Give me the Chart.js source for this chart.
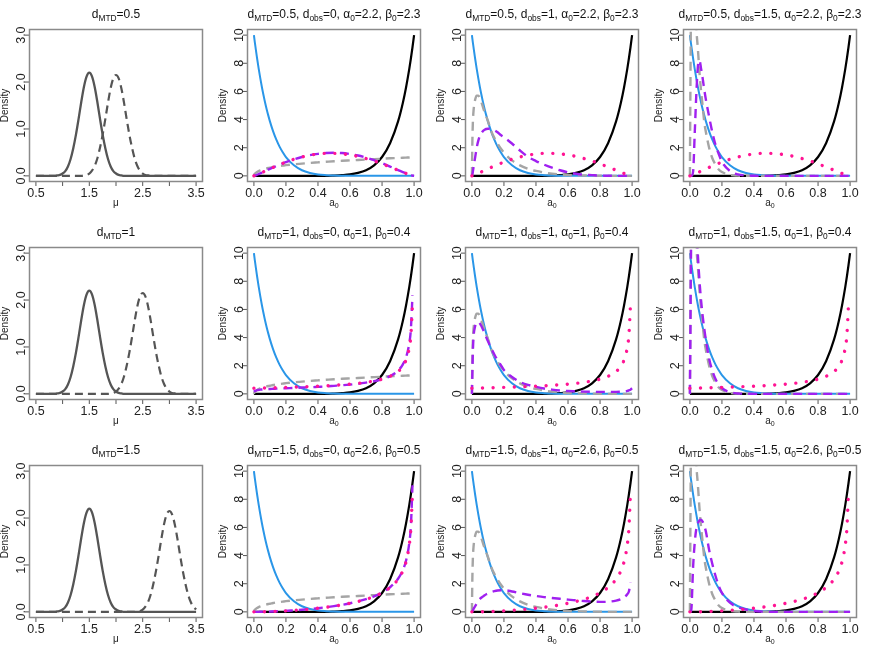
<!DOCTYPE html>
<html>
<head>
<meta charset="utf-8">
<script src="https://cdn.jsdelivr.net/npm/chart.js@4.4.1/dist/chart.umd.min.js"></script>
<style>
  html, body { margin: 0; padding: 0; background: #fff; }
  #grid { position: relative; width: 872px; height: 654px; }
  #grid canvas { position: absolute; }
</style>
</head>
<body>
<div id="grid"></div>
<script>
// ---- panel parameters ----
const dMTD = ["0.5", "1", "1.5"];
const dObs = ["0", "1", "1.5"];
const alpha0 = ["2.2", "1", "2.6"];
const beta0 = ["2.3", "0.4", "0.5"];

// ---- left column: densities of mu ----
const muGrid = [0.5, 0.55, 0.6, 0.65, 0.7, 0.75, 0.8, 0.85, 0.9, 0.95, 1.0, 1.05, 1.1, 1.15, 1.2, 1.25, 1.3, 1.35, 1.4, 1.45,
  1.5, 1.55, 1.6, 1.65, 1.7, 1.75, 1.8, 1.85, 1.9, 1.95, 2.0, 2.05, 2.1, 2.15, 2.2, 2.25, 2.3, 2.35, 2.4, 2.45,
  2.5, 2.55, 2.6, 2.65, 2.7, 2.75, 2.8, 2.85, 2.9, 2.95, 3.0, 3.05, 3.1, 3.15, 3.2, 3.25, 3.3, 3.35, 3.4, 3.45, 3.5];

const muSolid = [0, 0, 0, 0, 0, 0, 0, 0, 0.01, 0.02, 0.05, 0.1, 0.2, 0.36, 0.59, 0.88, 1.22, 1.58, 1.9, 2.12,
  2.2, 2.12, 1.9, 1.58, 1.22, 0.88, 0.59, 0.36, 0.2, 0.1, 0.05, 0.02, 0.01, 0, 0, 0, 0, 0, 0, 0,
  0, 0, 0, 0, 0, 0, 0, 0, 0, 0, 0, 0, 0, 0, 0, 0, 0, 0, 0, 0, 0];

const muDashR1 = [0, 0, 0, 0, 0, 0, 0, 0, 0, 0, 0, 0, 0, 0, 0, 0, 0, 0, 0.01, 0.02,
  0.05, 0.11, 0.21, 0.37, 0.6, 0.88, 1.21, 1.56, 1.87, 2.08, 2.15, 2.08, 1.87, 1.56, 1.21, 0.88, 0.6, 0.37, 0.21, 0.11,
  0.05, 0.02, 0.01, 0, 0, 0, 0, 0, 0, 0, 0, 0, 0, 0, 0, 0, 0, 0, 0, 0, 0];

const muDashR2 = [0, 0, 0, 0, 0, 0, 0, 0, 0, 0, 0, 0, 0, 0, 0, 0, 0, 0, 0, 0,
  0, 0, 0, 0, 0, 0, 0, 0, 0.01, 0.02, 0.05, 0.11, 0.21, 0.37, 0.6, 0.88, 1.21, 1.56, 1.87, 2.08,
  2.15, 2.08, 1.87, 1.56, 1.21, 0.88, 0.6, 0.37, 0.21, 0.11, 0.05, 0.02, 0.01, 0, 0, 0, 0, 0, 0, 0, 0];

const muDashR3 = [0, 0, 0, 0, 0, 0, 0, 0, 0, 0, 0, 0, 0, 0, 0, 0, 0, 0, 0, 0,
  0, 0, 0, 0, 0, 0, 0, 0, 0, 0, 0, 0, 0, 0, 0, 0, 0, 0, 0.01, 0.02,
  0.05, 0.11, 0.21, 0.37, 0.6, 0.88, 1.21, 1.56, 1.87, 2.08, 2.15, 2.08, 1.87, 1.56, 1.21, 0.88, 0.6, 0.37, 0.21, 0.11, 0.05];

const muTicks = [0.5, 1, 1.5, 2, 2.5, 3, 3.5];
const muTickLabels = ["0.5", "", "1.5", "", "2.5", "", "3.5"];
const muDensTicks = [0, 1, 2, 3];
const muDensLabels = ["0.0", "1.0", "2.0", "3.0"];

// ---- other columns: densities of a0 ----
const a0Grid = [0, 0.003, 0.006, 0.01, 0.02, 0.03, 0.04, 0.05, 0.06, 0.07, 0.08, 0.09, 0.1, 0.12, 0.14, 0.16, 0.18, 0.2,
  0.25, 0.3, 0.35, 0.4, 0.45, 0.5, 0.55, 0.6, 0.65, 0.7, 0.75, 0.8, 0.85, 0.9, 0.93, 0.95, 0.97, 0.98, 0.99, 1.0];

const blueCurve = [10, 9.73, 9.47, 9.14, 8.34, 7.6, 6.93, 6.3, 5.73, 5.2, 4.72, 4.28, 3.87, 3.16, 2.57, 2.08, 1.68, 1.34,
  0.75, 0.4, 0.21, 0.1, 0.05, 0.02, 0.01, 0, 0, 0, 0, 0, 0, 0, 0, 0, 0, 0, 0, 0];
const blackCurve = [0, 0, 0, 0, 0, 0, 0, 0, 0, 0, 0, 0, 0, 0, 0, 0, 0, 0,
  0, 0, 0, 0, 0, 0.02, 0.05, 0.1, 0.21, 0.4, 0.75, 1.34, 2.32, 3.87, 5.2, 6.3, 7.6, 8.34, 9.14, 10];

const pinkR1 = [0, 0.01, 0.02, 0.04, 0.08, 0.13, 0.18, 0.23, 0.29, 0.34, 0.39, 0.45, 0.5, 0.6, 0.7, 0.8, 0.89, 0.98,
  1.18, 1.34, 1.47, 1.55, 1.6, 1.6, 1.56, 1.49, 1.38, 1.23, 1.06, 0.85, 0.63, 0.4, 0.26, 0.17, 0.09, 0.05, 0.02, 0];
const pinkR2 = [0.4, 0.4, 0.4, 0.4, 0.4, 0.41, 0.41, 0.41, 0.42, 0.42, 0.42, 0.42, 0.43, 0.43, 0.44, 0.44, 0.45, 0.46,
  0.48, 0.5, 0.52, 0.54, 0.57, 0.61, 0.65, 0.69, 0.75, 0.82, 0.92, 1.05, 1.25, 1.59, 1.97, 2.41, 3.28, 4.18, 6.34, null];
const pinkR3 = [0, 0, 0, 0, 0, 0, 0.01, 0.01, 0.01, 0.01, 0.02, 0.02, 0.02, 0.03, 0.04, 0.05, 0.06, 0.07,
  0.11, 0.15, 0.2, 0.26, 0.33, 0.4, 0.5, 0.61, 0.74, 0.89, 1.09, 1.36, 1.73, 2.32, 2.92, 3.57, 4.77, 5.94, 8.53, null];

const grayC2 = [0, 0.1, 0.15, 0.2, 0.28, 0.34, 0.39, 0.43, 0.47, 0.5, 0.53, 0.56, 0.58, 0.63, 0.67, 0.7, 0.73, 0.76,
  0.82, 0.87, 0.92, 0.96, 1.0, 1.04, 1.07, 1.1, 1.13, 1.16, 1.19, 1.22, 1.25, 1.27, 1.29, 1.3, 1.31, 1.32, 1.32, 1.33];
const grayC3 = [0, 2.5, 3.8, 4.6, 5.4, 5.7, 5.7, 5.5, 5.2, 4.85, 4.5, 4.2, 3.9, 3.2, 2.7, 2.3, 1.95, 1.65,
  1.1, 0.75, 0.5, 0.35, 0.24, 0.16, 0.1, 0.06, 0.04, 0.03, 0.02, 0.01, 0, 0, 0, 0, 0, 0, 0, 0];
const grayC4 = [0, 6, 11, 13.5, 14, 12.5, 10.4, 9, 7.3, 6, 4.9, 3.8, 3.1, 2, 1.25, 0.8, 0.45, 0.27,
  0.07, 0.02, 0, 0, 0, 0, 0, 0, 0, 0, 0, 0, 0, 0, 0, 0, 0, 0, 0, 0];

const purpleR1C2 = [0, 0.01, 0.02, 0.04, 0.08, 0.13, 0.18, 0.23, 0.29, 0.34, 0.39, 0.45, 0.5, 0.6, 0.7, 0.8, 0.89, 0.98,
  1.18, 1.34, 1.47, 1.56, 1.62, 1.64, 1.62, 1.55, 1.45, 1.3, 1.12, 0.9, 0.66, 0.41, 0.27, 0.18, 0.09, 0.05, 0.02, 0];
const purpleR1C3 = [0, 0.1, 0.3, 0.6, 1.3, 2.0, 2.5, 2.85, 3.05, 3.2, 3.28, 3.33, 3.35, 3.33, 3.25, 3.1, 2.9, 2.75,
  2.3, 1.8, 1.35, 1.05, 0.8, 0.58, 0.4, 0.25, 0.15, 0.08, 0.05, 0.02, 0.01, 0, 0, 0, 0, 0, 0, 0];
const purpleR1C4 = [0, 0, 0, 0, 0.3, 3.0, 5.8, 7.8, 8.2, 7.6, 6.9, 6.1, 5.4, 4.2, 3.1, 2.2, 1.55, 1.0,
  0.35, 0.1, 0.03, 0.01, 0, 0, 0, 0, 0, 0, 0, 0, 0, 0, 0, 0, 0, 0, 0, 0];
const purpleR2C2 = [0.15, 0.18, 0.2, 0.22, 0.26, 0.28, 0.3, 0.31, 0.32, 0.33, 0.34, 0.35, 0.35, 0.36, 0.37, 0.38, 0.39, 0.4,
  0.42, 0.45, 0.47, 0.5, 0.53, 0.57, 0.61, 0.66, 0.72, 0.8, 0.9, 1.04, 1.26, 1.65, 2.1, 2.6, 3.6, 4.6, 7.0, null];
const purpleR2C3 = [0, 1.5, 3.0, 4.0, 4.8, 5.05, 5.1, 5.0, 4.8, 4.55, 4.3, 4.0, 3.75, 3.25, 2.8, 2.4, 2.05, 1.7,
  1.2, 0.85, 0.64, 0.5, 0.38, 0.3, 0.24, 0.2, 0.18, 0.16, 0.15, 0.14, 0.14, 0.14, 0.15, 0.17, 0.21, 0.25, 0.3, 0.4];
const purpleR2C4 = [0, 4, 9, 12, 14, 13.5, 11.8, 9.8, 8.0, 6.6, 5.5, 4.6, 3.8, 2.5, 1.65, 1.05, 0.65, 0.4,
  0.12, 0.03, 0.01, 0, 0, 0, 0, 0, 0, 0, 0, 0, 0, 0, 0, 0, 0, 0, 0, 0];
const purpleR3C2 = [0, 0, 0, 0, 0, 0, 0.01, 0.01, 0.01, 0.01, 0.02, 0.02, 0.02, 0.03, 0.04, 0.05, 0.06, 0.07,
  0.11, 0.15, 0.2, 0.26, 0.33, 0.41, 0.5, 0.61, 0.74, 0.9, 1.1, 1.37, 1.75, 2.35, 2.97, 3.65, 4.9, 6.1, 9.0, null];
const purpleR3C3 = [0, 0.05, 0.1, 0.2, 0.4, 0.6, 0.78, 0.92, 1.02, 1.1, 1.18, 1.25, 1.3, 1.4, 1.47, 1.52, 1.54, 1.54,
  1.45, 1.33, 1.22, 1.13, 1.05, 0.99, 0.93, 0.87, 0.82, 0.77, 0.73, 0.71, 0.72, 0.8, 0.9, 1.02, 1.25, 1.45, 2.1, null];
const purpleR3C4 = [0, 0, 0, 0.3, 3.2, 4.9, 5.9, 6.3, 6.5, 6.55, 6.4, 6.1, 5.7, 4.4, 3.4, 2.55, 1.85, 1.35,
  0.65, 0.33, 0.17, 0.06, 0.02, 0, 0, 0, 0, 0, 0, 0, 0, 0, 0, 0, 0, 0, 0, 0];

const a0Ticks = [0, 0.2, 0.4, 0.6, 0.8, 1];
const a0TickLabels = ["0.0", "0.2", "0.4", "0.6", "0.8", "1.0"];
const densTicks = [0, 2, 4, 6, 8, 10];
const densLabels = ["0", "2", "4", "6", "8", "10"];

// lookups
const muDash = [muDashR1, muDashR2, muDashR3];
const pinkByRow = [pinkR1, pinkR2, pinkR3];
const grayByCol = [grayC2, grayC3, grayC4];
const purpleByPanel = [
  [purpleR1C2, purpleR1C3, purpleR1C4],
  [purpleR2C2, purpleR2C3, purpleR2C4],
  [purpleR3C2, purpleR3C3, purpleR3C4],
];

// ---- drawing helpers ----
const FONT = '"Liberation Sans", Arial, Helvetica, sans-serif';
const CELL = 218;

function points(xs, ys) {
  return xs.map((x, i) => ({ x: x, y: ys[i] }));
}

function curve(xs, ys, color, width, dash, cap) {
  return {
    data: points(xs, ys),
    borderColor: color,
    borderWidth: width,
    borderDash: dash || [],
    borderCapStyle: cap || "butt",
    borderJoinStyle: "round",
    pointRadius: 0,
    pointHoverRadius: 0,
    fill: false,
    tension: 0,
    cubicInterpolationMode: "monotone",
    spanGaps: false,
    clip: 0,
  };
}

function drawRich(ctx, parts, cx, y, size) {
  const sub = size * 0.7;
  let total = 0;
  parts.forEach((p) => {
    ctx.font = (p[1] ? sub : size) + "px " + FONT;
    total += ctx.measureText(p[0]).width;
  });
  let x = cx - total / 2;
  ctx.textAlign = "left";
  ctx.textBaseline = "alphabetic";
  parts.forEach((p) => {
    ctx.font = (p[1] ? sub : size) + "px " + FONT;
    ctx.fillText(p[0], x, p[1] ? y + size * 0.25 : y);
    x += ctx.measureText(p[0]).width;
  });
}

// draws box, ticks, tick labels and titles
function decor(info) {
  return {
    id: "decor",
    afterDraw(chart) {
      const ctx = chart.ctx;
      const a = chart.chartArea;
      const sx = chart.scales.x;
      const sy = chart.scales.y;
      ctx.save();

      // tick marks
      ctx.strokeStyle = "#555";
      ctx.lineWidth = 1;
      ctx.beginPath();
      info.xTicks.forEach((v) => {
        const px = sx.getPixelForValue(v);
        ctx.moveTo(px, a.bottom);
        ctx.lineTo(px, a.bottom + 4.5);
      });
      info.yTicks.forEach((v) => {
        const py = sy.getPixelForValue(v);
        ctx.moveTo(a.left, py);
        ctx.lineTo(a.left - 4.5, py);
      });
      ctx.stroke();

      // box
      ctx.strokeStyle = "#8a8a8a";
      ctx.lineWidth = 1.5;
      ctx.strokeRect(a.left, a.top, a.right - a.left, a.bottom - a.top);

      // tick labels
      ctx.fillStyle = "#222";
      ctx.font = "12.5px " + FONT;
      ctx.textAlign = "center";
      ctx.textBaseline = "alphabetic";
      info.xTicks.forEach((v, i) => {
        if (info.xLabels[i]) ctx.fillText(info.xLabels[i], sx.getPixelForValue(v), a.bottom + 15.5);
      });
      info.yTicks.forEach((v, i) => {
        ctx.save();
        ctx.translate(a.left - 5, sy.getPixelForValue(v));
        ctx.rotate(-Math.PI / 2);
        ctx.fillText(info.yLabels[i], 0, 0);
        ctx.restore();
      });

      // axis names
      const cx = (a.left + a.right) / 2;
      const cy = (a.top + a.bottom) / 2;
      drawRich(ctx, info.xName, cx, a.bottom + 24, 10);
      ctx.save();
      ctx.translate(7.5, cy);
      ctx.rotate(-Math.PI / 2);
      ctx.font = "10px " + FONT;
      ctx.textAlign = "center";
      ctx.fillText("Density", 0, 0);
      ctx.restore();

      // title
      ctx.fillStyle = "#111";
      drawRich(ctx, info.title, cx, 18, 12);
      ctx.restore();
    },
  };
}

function makePanel(row, col, datasets, scales, info) {
  const canvas = document.createElement("canvas");
  canvas.width = CELL;
  canvas.height = CELL;
  canvas.style.left = col * CELL + "px";
  canvas.style.top = row * CELL + "px";
  canvas.style.width = CELL + "px";
  canvas.style.height = CELL + "px";
  document.getElementById("grid").appendChild(canvas);

  new Chart(canvas, {
    type: "line",
    data: { datasets: datasets },
    options: {
      responsive: false,
      animation: false,
      events: [],
      layout: { padding: { left: 29.5, top: 29.5, right: 15.5, bottom: 36.5 } },
      plugins: { legend: { display: false }, tooltip: { enabled: false }, title: { display: false } },
      scales: {
        x: { type: "linear", display: false, min: scales.xmin, max: scales.xmax },
        y: { type: "linear", display: false, min: scales.ymin, max: scales.ymax },
      },
    },
    plugins: [decor(info)],
  });
}

// ---- build the 3 x 4 grid ----
const cDark = "#555555";
const cBlue = "#2A96E8";
const cGray = "#A5A5A5";
const cPurple = "#A020F0";
const cPink = "#FF1493";

for (let r = 0; r < 3; r++) {
  // left column
  makePanel(r, 0, [
    curve(muGrid, muDash[r], cDark, 2.2, [8, 5]),
    curve(muGrid, muSolid, cDark, 2.3),
  ], { xmin: 0.38, xmax: 3.62, ymin: -0.12, ymax: 3.12 }, {
    title: [["d", 0], ["MTD", 1], ["=" + dMTD[r], 0]],
    xTicks: muTicks, xLabels: muTickLabels,
    yTicks: muDensTicks, yLabels: muDensLabels,
    xName: [["\u03BC", 0]],
  });

  for (let c = 0; c < 3; c++) {
    makePanel(r, c + 1, [
      curve(a0Grid, pinkByRow[r], cPink, 3.4, [0.01, 10.6], "round"),
      curve(a0Grid, purpleByPanel[r][c], cPurple, 2.4, [9, 6]),
      curve(a0Grid, grayByCol[c], cGray, 2.4, [9, 6]),
      curve(a0Grid, blueCurve, cBlue, 2),
      curve(a0Grid, blackCurve, "#000000", 2.2),
    ], { xmin: -0.04, xmax: 1.04, ymin: -0.4, ymax: 10.4 }, {
      title: [["d", 0], ["MTD", 1], ["=" + dMTD[r] + ", d", 0], ["obs", 1],
        ["=" + dObs[c] + ", \u03B1", 0], ["0", 1], ["=" + alpha0[r] + ", \u03B2", 0], ["0", 1], ["=" + beta0[r], 0]],
      xTicks: a0Ticks, xLabels: a0TickLabels,
      yTicks: densTicks, yLabels: densLabels,
      xName: [["a", 0], ["0", 1]],
    });
  }
}
</script>
</body>
</html>
